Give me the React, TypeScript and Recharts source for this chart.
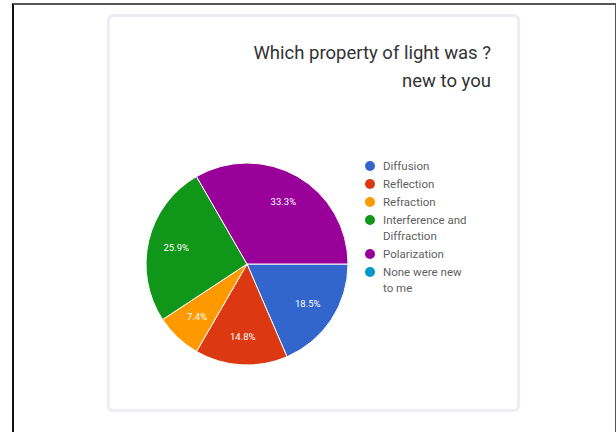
import * as React from "react"
import { PieChart, Pie, Cell, Legend } from "recharts"

const CATEGORIES = [
  "Diffusion",
  "Reflection",
  "Refraction",
  "Interference and Diffraction",
  "Polarization",
  "None were new to me",
]
const COUNTS = [5, 4, 2, 7, 9, 0]
const COLORS = ["#3366cc", "#dc3912", "#ff9900", "#109618", "#990099", "#0099c6"]
const TITLE_LINES = ["Which property of light was ?", "new to you"]

const data = CATEGORIES.map((name, i) => ({ name, value: COUNTS[i] }))

const RADIAN = Math.PI / 180

function renderLabel(props: any) {
  const { cx, cy, midAngle, outerRadius, percent } = props
  if (!percent) return null
  const r = outerRadius * 0.72
  const x = cx + r * Math.cos(-midAngle * RADIAN)
  const y = cy + r * Math.sin(-midAngle * RADIAN)
  return (
    <text
      x={x}
      y={y}
      fill="#ffffff"
      fontSize={9.5}
      fontFamily="Roboto, Arial, sans-serif"
      textAnchor="middle"
      dominantBaseline="central"
    >
      {(percent * 100).toFixed(1)}%
    </text>
  )
}

function LegendContent() {
  return (
    <div style={{ fontFamily: "Roboto, Arial, sans-serif", fontSize: 11.5, color: "#5f5f5f" }}>
      {CATEGORIES.map((name, i) => (
        <div key={name} style={{ display: "flex", alignItems: "flex-start", marginBottom: 2 }}>
          <span
            style={{
              width: 10,
              height: 10,
              borderRadius: "50%",
              background: COLORS[i],
              marginTop: 3,
              marginRight: 8,
              flexShrink: 0,
            }}
          />
          <span style={{ width: 88, lineHeight: "16px" }}>{name}</span>
        </div>
      ))}
    </div>
  )
}

export default function App() {
  return (
    <div style={{ position: "absolute", left: 0, top: 0, width: 616, height: 432, background: "#fff", overflow: "hidden" }}>
      <style>{"body{margin:0}"}</style>
      {/* outer frame */}
      <div
        style={{
          position: "absolute",
          left: 12,
          top: 3,
          width: 601,
          height: 440,
          borderLeft: "2px solid #111",
          borderTop: "2px solid #555",
          borderRight: "2px solid #555",
        }}
      />
      {/* card */}
      <div
        style={{
          position: "absolute",
          left: 107,
          top: 14,
          width: 407,
          height: 392,
          border: "3px solid #ededf5",
          borderRadius: 6,
          background: "#fff",
        }}
      />
      {/* title */}
      <div
        style={{
          position: "absolute",
          right: 616 - 491,
          top: 39,
          textAlign: "right",
          fontFamily: "Roboto, Arial, sans-serif",
          fontSize: 18.5,
          lineHeight: "28px",
          color: "#333",
          whiteSpace: "nowrap",
        }}
      >
        {TITLE_LINES.map((t) => (
          <div key={t}>{t}</div>
        ))}
      </div>
      <div style={{ position: "absolute", left: 0, top: 0 }}>
        <PieChart width={616} height={432} margin={{ top: 0, right: 0, bottom: 0, left: 0 }}>
          <Pie
            data={data}
            dataKey="value"
            nameKey="name"
            cx={247}
            cy={264}
            outerRadius={101}
            startAngle={0}
            endAngle={-360}
            stroke="#ffffff"
            strokeWidth={1}
            label={renderLabel}
            labelLine={false}
            isAnimationActive={false}
          >
            {data.map((d, i) => (
              <Cell key={d.name} fill={COLORS[i]} />
            ))}
          </Pie>
          <Legend
            layout="vertical"
            content={<LegendContent />}
            wrapperStyle={{ position: "absolute", left: 365, top: 158, width: 115 }}
          />
        </PieChart>
      </div>
    </div>
  )
}
